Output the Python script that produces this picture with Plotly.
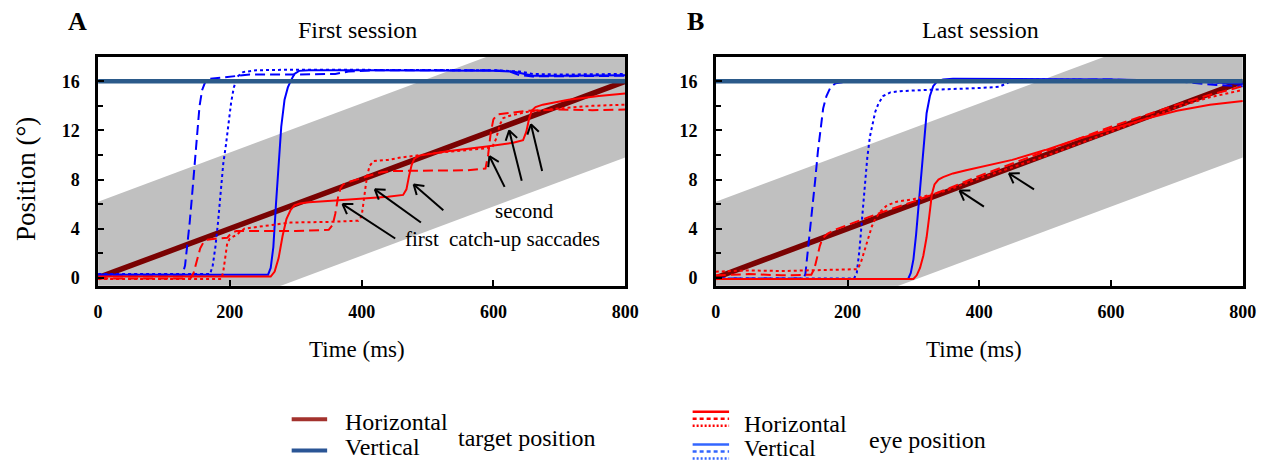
import math
import plotly.graph_objects as go

W, H = 1279, 462
SERIF = "'Liberation Serif', 'Times New Roman', Times, serif"

# ---------------- data ----------------
TARGET_T = [0, 800]
TARGET_H = [0, 16]          # horizontal target position (deg)
TARGET_V = [16, 16]         # vertical target position (deg)
BAND = 6.2                  # half-width of grey band (deg)

# Panel A (first session) eye traces
A_hs_t = [0, 100, 200, 262, 268, 274, 280, 286, 292, 298, 306, 320, 360, 400, 440, 463, 468, 472, 476, 480, 488, 500, 530, 590, 630, 645, 650, 654, 658, 664, 675, 714, 760, 800]
A_hs_y = [0.1, 0.1, 0.1, 0.1, 0.5, 1.6, 3.4, 4.8, 5.5, 5.9, 6.05, 6.15, 6.3, 6.45, 6.6, 6.75, 7.2, 8.3, 9.2, 9.7, 9.95, 10.05, 10.3, 10.7, 11.0, 11.2, 11.9, 12.9, 13.6, 13.9, 14.1, 14.5, 14.8, 15.0]

A_hd_t = [0, 100, 140, 145, 150, 155, 160, 166, 180, 196, 200, 204, 210, 250, 300, 350, 356, 360, 364, 368, 372, 380, 400, 420, 430, 450, 500, 560, 588, 592, 596, 600, 606, 620, 650, 700, 750, 800]
A_hd_y = [-0.05, -0.05, -0.05, 0.4, 1.5, 2.4, 2.9, 3.1, 3.2, 3.25, 3.5, 3.7, 3.8, 3.8, 3.8, 3.9, 4.3, 5.2, 6.5, 7.3, 7.6, 7.8, 8.1, 8.4, 8.6, 8.7, 8.7, 8.75, 8.9, 10.0, 11.8, 12.9, 13.3, 13.4, 13.6, 13.7, 13.65, 13.7]

A_ho_t = [0, 100, 187, 190, 193, 196, 200, 210, 222, 250, 292, 350, 395, 400, 404, 408, 412, 418, 440, 460, 490, 520, 560, 598, 604, 610, 615, 625, 650, 700, 750, 800]
A_ho_y = [-0.1, -0.1, -0.1, 0.5, 1.8, 2.8, 3.2, 3.5, 4.0, 4.2, 4.5, 4.55, 4.65, 5.0, 6.5, 8.2, 9.1, 9.5, 9.6, 9.8, 10.0, 10.2, 10.4, 10.6, 11.3, 12.5, 13.0, 13.2, 13.5, 13.8, 14.0, 14.1]

A_vs_t = [0, 100, 200, 258, 262, 266, 270, 274, 278, 283, 288, 293, 298, 305, 320, 400, 500, 600, 630, 645, 660, 700, 800]
A_vs_y = [0.25, 0.25, 0.25, 0.25, 0.8, 2.5, 6.0, 9.5, 12.3, 14.5, 15.5, 16.1, 16.6, 16.85, 16.9, 16.9, 16.9, 16.85, 16.8, 16.6, 16.45, 16.45, 16.5]

A_vd_t = [0, 100, 128, 132, 136, 139, 142, 145, 148, 151, 154, 158, 163, 170, 185, 200, 215, 230, 300, 360, 380, 420, 500, 600, 625, 640, 660, 700, 800]
A_vd_y = [0.25, 0.25, 0.25, 1.0, 2.8, 4.5, 6.3, 8.3, 10.3, 12.5, 14.0, 15.3, 16.0, 16.2, 16.3, 16.4, 16.5, 16.55, 16.55, 16.6, 16.8, 16.9, 16.9, 16.9, 16.8, 16.5, 16.4, 16.4, 16.45]

A_vo_t = [0, 100, 170, 174, 178, 182, 186, 190, 194, 198, 202, 206, 212, 220, 240, 300, 400, 500, 600, 640, 660, 700, 800]
A_vo_y = [0.3, 0.3, 0.3, 1.0, 2.5, 4.5, 7.0, 9.3, 10.8, 12.5, 14.3, 15.5, 16.4, 16.75, 16.9, 16.95, 16.95, 16.95, 16.9, 16.8, 16.6, 16.55, 16.6]

# Panel B (last session) eye traces
B_hs_t = [0, 100, 200, 300, 305, 310, 315, 320, 324, 328, 332, 338, 345, 360, 380, 400, 450, 500, 550, 600, 650, 700, 750, 800]
B_hs_y = [-0.1, -0.1, -0.1, -0.1, 0.2, 0.8, 1.8, 3.3, 5.0, 6.8, 7.6, 8.0, 8.2, 8.5, 8.75, 9.0, 9.6, 10.4, 11.3, 12.1, 12.9, 13.6, 14.1, 14.4]

B_hd_t = [0, 50, 100, 145, 150, 154, 158, 162, 170, 180, 200, 250, 300, 350, 400, 450, 500, 550, 600, 650, 700, 750, 800]
B_hd_y = [0.2, 0.3, 0.2, 0.25, 0.8, 1.8, 2.6, 3.2, 3.6, 3.9, 4.3, 5.3, 6.2, 7.2, 8.3, 9.3, 10.3, 11.3, 12.3, 13.2, 14.1, 14.9, 15.6]

B_ho_t = [0, 50, 100, 150, 200, 215, 220, 224, 228, 232, 237, 242, 250, 260, 275, 300, 350, 400, 450, 500, 550, 600, 650, 700, 750, 800]
B_ho_y = [0.5, 0.6, 0.55, 0.6, 0.65, 0.7, 1.2, 1.9, 2.8, 3.5, 4.2, 4.8, 5.4, 5.9, 6.2, 6.4, 7.1, 8.1, 9.0, 9.9, 10.9, 11.9, 12.9, 13.9, 14.7, 15.3]

B_vs_t = [0, 100, 200, 292, 296, 300, 304, 308, 312, 316, 320, 325, 330, 336, 345, 360, 400, 500, 600, 700, 750, 800]
B_vs_y = [-0.1, -0.1, -0.1, -0.1, 0.4, 1.5, 3.5, 6.0, 8.8, 11.3, 13.4, 14.8, 15.6, 16.0, 16.15, 16.2, 16.2, 16.2, 16.15, 16.05, 15.95, 15.8]

B_vd_t = [0, 100, 133, 136, 139, 143, 147, 151, 155, 159, 163, 168, 174, 182, 195, 250, 300, 400, 500, 600, 700, 760, 800]
B_vd_y = [-0.05, -0.05, -0.05, 0.3, 1.8, 3.5, 5.5, 8.0, 10.3, 12.2, 13.8, 14.8, 15.5, 15.85, 15.95, 16.0, 16.0, 16.05, 16.1, 16.15, 16.0, 15.7, 15.6]

B_vo_t = [0, 100, 210, 214, 218, 222, 226, 230, 234, 238, 242, 247, 254, 265, 280, 320, 360, 400, 430, 440, 450, 470, 500, 600, 700, 760, 800]
B_vo_y = [-0.05, -0.05, -0.05, 0.4, 2.2, 4.8, 7.5, 9.8, 11.5, 12.6, 13.5, 14.2, 14.8, 15.1, 15.2, 15.3, 15.35, 15.45, 15.55, 15.8, 16.05, 16.15, 16.15, 16.1, 16.05, 15.9, 15.8]

# Arrows: (head_t, head_y, tail_t, tail_y)
A_arrows = [(371, 6.0, 451, 3.2), (420, 7.2, 490, 4.5), (479, 7.6, 524, 5.5),
            (594, 9.9, 617, 7.4), (624, 12.0, 643, 7.9), (657, 12.5, 674, 8.7)]
B_arrows = [(370, 7.1, 407, 5.8), (445, 8.5, 483, 7.2)]

X_TICKS = [0, 200, 400, 600, 800]
Y_TICKS = [0, 4, 8, 12, 16]
Y_MINOR = [2, 6, 10, 14]

# ---------------- styles / geometry ----------------
RED = "#ff0000"
BLUE = "#0000ff"
MAROON = "#7a0202"
STEEL = "#2b5a8a"
GREY = "#c0c0c0"
DASH = "10px,5px"
DOT = "3px,3px"

X_RANGE = [0, 800]
Y_RANGE = [-0.65, 18.0]
A_PX = [94.5, 629.5]
B_PX = [721.5, 1256.5]
TOP_PX, BOT_PX = 57, 287


def px2paper(px, py):
    return px / W, 1 - py / H


fig = go.Figure()


def add_panel(xa, ya, traces):
    up = [v + BAND for v in TARGET_H]
    lo = [v - BAND for v in TARGET_H]
    fig.add_trace(go.Scatter(x=TARGET_T + TARGET_T[::-1], y=up + lo[::-1], fill="toself",
                             fillcolor=GREY, line=dict(width=0), mode="lines",
                             xaxis=xa, yaxis=ya, showlegend=False, hoverinfo="skip"))
    fig.add_trace(go.Scatter(x=TARGET_T, y=TARGET_H, mode="lines",
                             line=dict(color=MAROON, width=5.5), xaxis=xa, yaxis=ya, showlegend=False))
    for t, y, col, dash in traces:
        fig.add_trace(go.Scatter(x=t, y=y, mode="lines", line=dict(color=col, width=2, dash=dash),
                                 xaxis=xa, yaxis=ya, showlegend=False))
    fig.add_trace(go.Scatter(x=TARGET_T, y=TARGET_V, mode="lines",
                             line=dict(color=STEEL, width=4.5), xaxis=xa, yaxis=ya, showlegend=False))


add_panel("x", "y", [
    (A_vd_t, A_vd_y, BLUE, DASH), (A_vo_t, A_vo_y, BLUE, DOT), (A_vs_t, A_vs_y, BLUE, "solid"),
    (A_hd_t, A_hd_y, RED, DASH), (A_ho_t, A_ho_y, RED, DOT), (A_hs_t, A_hs_y, RED, "solid"),
])
add_panel("x2", "y2", [
    (B_vd_t, B_vd_y, BLUE, DASH), (B_vo_t, B_vo_y, BLUE, DOT), (B_vs_t, B_vs_y, BLUE, "solid"),
    (B_hd_t, B_hd_y, RED, DASH), (B_ho_t, B_ho_y, RED, DOT), (B_hs_t, B_hs_y, RED, "solid"),
])

tickfont = dict(family=SERIF, size=18, color="black", weight="bold")
xcommon = dict(range=X_RANGE, tickvals=X_TICKS, ticks="inside", ticklen=6, tickwidth=1.5,
               tickcolor="black", showline=True, linecolor="black", linewidth=2.5, mirror=True,
               showgrid=False, zeroline=False, tickfont=tickfont, ticklabelstandoff=8)
ycommon = dict(range=Y_RANGE, tickvals=Y_TICKS, ticks="inside", ticklen=6, tickwidth=1.5,
               tickcolor="black", showline=True, linecolor="black", linewidth=2.5, mirror=True,
               showgrid=False, zeroline=False, tickfont=tickfont, ticklabelstandoff=12,
               minor=dict(tickvals=Y_MINOR, ticks="inside", ticklen=5, tickwidth=1.5, tickcolor="black"),
               domain=[1 - BOT_PX / H, 1 - TOP_PX / H])

fig.update_layout(
    width=W, height=H, margin=dict(l=0, r=0, t=0, b=0),
    paper_bgcolor="white", plot_bgcolor="white", showlegend=False,
    font=dict(family=SERIF),
    xaxis=dict(domain=[A_PX[0] / W, A_PX[1] / W], anchor="y", **xcommon),
    yaxis=dict(anchor="x", **ycommon),
    xaxis2=dict(domain=[B_PX[0] / W, B_PX[1] / W], anchor="y2", **xcommon),
    yaxis2=dict(anchor="x2", **ycommon),
)

ann = []


def text(s, px, py, size, bold=False, xanchor="center", angle=0):
    x, y = px2paper(px, py)
    ann.append(dict(text=s, x=x, y=y, xref="paper", yref="paper", showarrow=False,
                    xanchor=xanchor, yanchor="middle", textangle=angle,
                    font=dict(family=SERIF, size=size, color="black",
                              weight="bold" if bold else "normal")))


text("A", 74, 22, 26, bold=True)
text("B", 701, 22, 26, bold=True)
text("First session", 358, 30, 24)
text("Last session", 990, 30, 24)
text("Time (ms)", 357, 351, 23)
text("Time (ms)", 984, 351, 23)
text("Position (°)", 22, 180, 27, angle=-90)
text("second", 527, 212, 21)
text("first", 423, 240, 21)
text("catch-up saccades", 527, 240, 21)

# legend texts
text("Horizontal", 343, 424, 24, xanchor="left")
text("Vertical", 343, 449, 24, xanchor="left")
text("target position", 458, 440, 24, xanchor="left")
text("Horizontal", 748, 426, 24, xanchor="left")
text("Vertical", 748, 450, 23, xanchor="left")
text("eye position", 875, 442, 24, xanchor="left")

fig.update_layout(annotations=ann)

shapes = []

# arrows drawn as open V heads
SX = (A_PX[1] - A_PX[0]) / (X_RANGE[1] - X_RANGE[0])      # px per ms
SY = (BOT_PX - TOP_PX) / (Y_RANGE[1] - Y_RANGE[0])        # px per deg
ARM = 11.0
HALF = math.radians(33)


def arrow(xr, yr, ht, hy, tt, ty):
    seg = dict(type="line", xref=xr, yref=yr, line=dict(color="black", width=2))
    shapes.append(dict(seg, x0=tt, y0=ty, x1=ht, y1=hy))
    dx, dy = (ht - tt) * SX, (hy - ty) * SY
    L = math.hypot(dx, dy)
    bx, by = -dx / L, -dy / L
    for s in (1, -1):
        c, sn = math.cos(s * HALF), math.sin(s * HALF)
        ax = bx * c - by * sn
        ay = bx * sn + by * c
        shapes.append(dict(seg, x0=ht, y0=hy, x1=ht + ARM * ax / SX, y1=hy + ARM * ay / SY))


for a in A_arrows:
    arrow("x", "y", *a)
for a in B_arrows:
    arrow("x2", "y2", *a)


# legend key lines (paper coordinates)
def key(px0, px1, py, color, width, dash="solid"):
    x0, y = px2paper(px0, py)
    x1, _ = px2paper(px1, py)
    shapes.append(dict(type="line", xref="paper", yref="paper", x0=x0, x1=x1, y0=y, y1=y,
                       line=dict(color=color, width=width, dash=dash)))


key(291, 327, 421, "#a3322d", 4)
key(291, 327, 452.5, "#2a5595", 4)
key(698, 735, 413.5, RED, 2.5)
key(698, 735, 420.5, RED, 2.5, "4px,3px")
key(698, 735, 427.5, RED, 2.5, "2px,2px")
key(698, 735, 446.5, "#3366ff", 2.5)
key(698, 735, 453.5, "#3366ff", 2.5, "4px,3px")
key(698, 735, 460.5, "#3366ff", 2.5, "2px,2px")
fig.update_layout(shapes=shapes)

fig.write_html("out.html")
